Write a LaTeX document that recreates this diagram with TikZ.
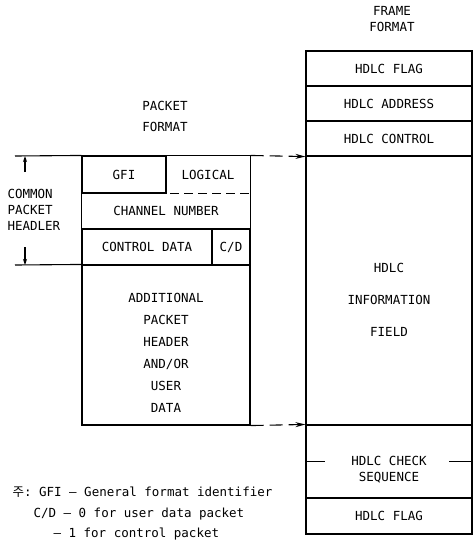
\documentclass[tikz,border=0pt]{standalone}
\usepackage{fontspec}
\setmonofont{DejaVu Sans Mono}
\newfontfamily\kofont{Noto Sans CJK KR}
\usetikzlibrary{arrows.meta,positioning}
\tikzset{txt/.style={align=center,inner sep=0pt,font=\fontsize{12.5}{16}\selectfont\ttfamily},
  field/.style={txt,draw,line width=1.1pt},
  fmtbox/.style={field,minimum width=166pt},
  dasharr/.style={line width=1.1pt,dash pattern=on 13pt off 6pt,-{Stealth[length=10pt,width=5pt]}},
  dimarr/.style={line width=1.1pt,-{Stealth[length=6pt,width=4pt]}}}

\begin{document}
\begin{tikzpicture}[x=1pt,y=-1pt,line width=1.1pt]
\useasboundingbox (0,0) rectangle (474,542);
% frame format
\node[txt] (frametitle) at (392,19) {FRAME\\FORMAT};
\node[fmtbox,minimum height=35pt] (flagA) at (389,68.5) {HDLC FLAG};
\node[fmtbox,minimum height=35pt] (addr) at (389,103.5) {HDLC ADDRESS};
\node[fmtbox,minimum height=35pt] (ctrl) at (389,138.5) {HDLC CONTROL};
\node[fmtbox,minimum height=269pt] (info) at (389,290.5) {};
\node[txt] (infotxt) at (389,300) {HDLC\\[16pt]INFORMATION\\[16pt]FIELD};
\node[fmtbox,minimum height=73pt] (check) at (389,461.5) {};
\node[txt] (checktxt) at (389,470) {HDLC CHECK\\SEQUENCE};
\draw (check.west) -- ++(20,0);
\draw (check.east) -- ++(-24,0);
\node[fmtbox,minimum height=36pt] (flagB) at (389,516) {HDLC FLAG};
% packet format
\node[txt] (pkttitle) at (165,116.5) {PACKET\\[5pt]FORMAT};
\node[field,minimum width=84pt,minimum height=37pt] (gfi) at (124,174.5) {GFI};
\node[txt,minimum width=84pt,minimum height=37pt] (logical) at (208,174.5) {LOGICAL};
\node[txt,minimum width=168pt,minimum height=36pt] (chan) at (166,211) {CHANNEL NUMBER};
\node[field,minimum width=130pt,minimum height=36pt] (ctrldata) at (147,247) {CONTROL DATA};
\node[field,minimum width=38pt,minimum height=36pt] (cd) at (231,247) {C/D};
\node[field,minimum width=168pt,minimum height=160pt] (addl) at (166,345) {};
\node[txt] (addltxt) at (166,353) {ADDITIONAL\\[6pt]PACKET\\[6pt]HEADER\\[6pt]AND/OR\\[6pt]USER\\[6pt]DATA};
\draw (gfi.north east) -- (logical.north east) -- (cd.north east);
\draw (gfi.south west) -- (ctrldata.north west);
\draw[dash pattern=on 9pt off 5pt] ([xshift=5pt]logical.south west) -- (logical.south east);
% common header dimension
\coordinate (dimA) at (15,156);
\coordinate (dimB) at (15,265);
\coordinate (tailA) at (25,172);
\coordinate (tipA) at (25,156);
\coordinate (tailB) at (25,247);
\coordinate (tipB) at (25,265);
\draw (dimA) -- (gfi.north west);
\draw (dimB) -- (addl.north west);
\draw[dimarr] (tailA) -- (tipA);
\draw[dimarr] (tailB) -- (tipB);
\node[txt,align=left,anchor=west] (hdr) at (7,210) {COMMON\\PACKET\\HEADLER};
% packet into frame
\draw[dasharr] (logical.north east) -- (ctrl.south west);
\draw[dasharr] (addl.south east) -- (check.north west);
% notes
\node[txt,anchor=base west] (noteA) at (12,496) {{\kofont 주}: GFI – General format identifier};
\node[txt,anchor=base west] (noteB) at (33,517) {C/D – 0 for user data packet};
\node[txt,anchor=base west] (noteC) at (53,537) {– 1 for control packet};
\end{tikzpicture}
\end{document}
